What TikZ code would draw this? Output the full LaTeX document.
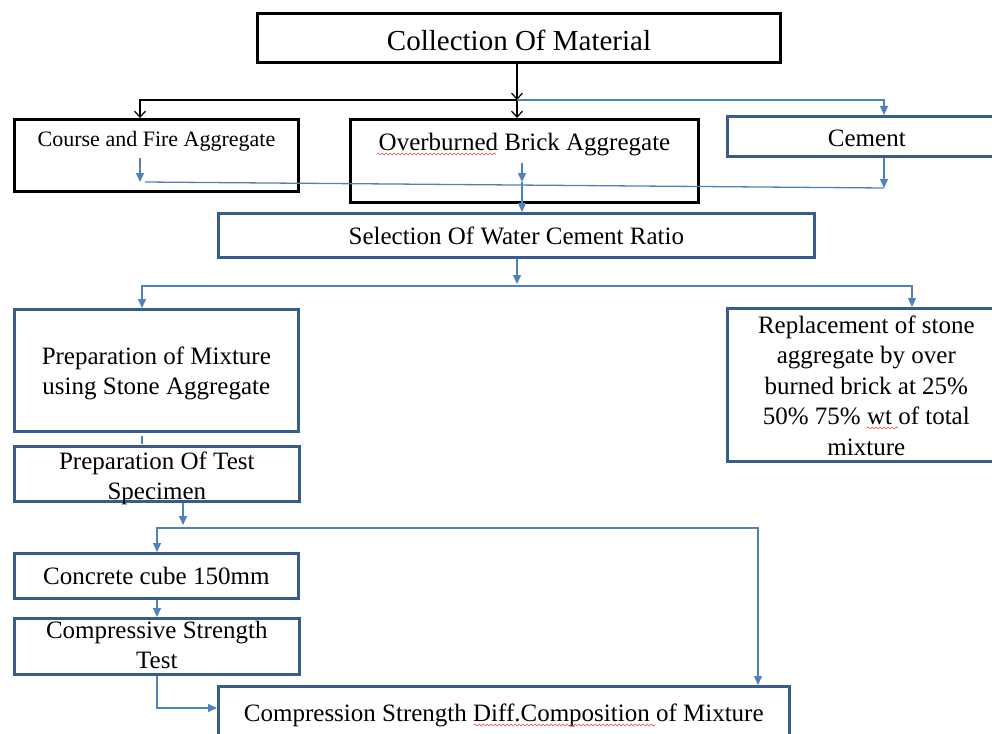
\documentclass[tikz,border=0pt]{standalone}
\usepackage{fontspec}
\setmainfont{Liberation Serif}
\usetikzlibrary{arrows.meta, positioning, calc, decorations.pathmorphing}

\definecolor{boxblue}{RGB}{56,93,138}
\definecolor{lineblue}{RGB}{79,129,189}
\definecolor{squig}{RGB}{232,70,70}

\tikzset{
    tri/.tip={Triangle[length=9pt, width=8pt]},
    vee/.tip={Straight Barb[length=6pt, width=11pt, line width=1.2pt]}
}

\begin{document}
\begin{tikzpicture}[
    x=1pt, y=-1pt,
    blackbox/.style={rectangle, draw=black, line width=3pt, inner sep=0pt, align=center,
                     anchor=north west, font=\fontsize{25}{30.5}\selectfont},
    bluebox/.style={rectangle, draw=boxblue, line width=2.6pt, inner sep=0pt, align=center,
                    anchor=north west, font=\fontsize{25}{30.5}\selectfont},
    blk/.style={-vee, draw=black, line width=1.2pt},
    arr/.style={-tri, draw=lineblue, line width=1.3pt},
    ln/.style={draw=lineblue, line width=1.3pt},
    squiggle/.style={draw=squig, line width=0.6pt, decorate,
                     decoration={snake, amplitude=1pt, segment length=4pt}}
]
\useasboundingbox (0,0) rectangle (992,733);

%% ===== TOP: material =====
\node[blackbox, minimum width=523pt, text height=37pt, text depth=12pt,
      font=\fontsize{29}{35}\selectfont] (coll) at (256,12) {Collection Of Material};
\node[blackbox, minimum width=284pt, text height=27pt, text depth=45pt,
      font=\fontsize{22}{27}\selectfont] (course) at (13,118) {Course and Fire Aggregate};
\node[blackbox, minimum width=348pt, text height=31pt, text depth=52pt] (over) at (349,118) {Overburned Brick Aggregate};
\node[bluebox, minimum width=279pt, text height=30pt, text depth=10pt] (cement) at (726,115) {Cement};

%% ===== MIDDLE: ratio and mixtures =====
\node[bluebox, minimum width=596pt, text height=31pt, text depth=13pt] (sel) at (217,212) {Selection Of Water Cement Ratio};
\node[bluebox, minimum width=284pt, text height=85.5pt, text depth=36.5pt] (mix) at (13,308) {Preparation of Mixture\\using Stone Aggregate};
\node[bluebox, minimum width=278pt, text height=147pt, text depth=6pt] (repl) at (726,307)
     {Replacement of stone\\aggregate by over\\burned brick at 25\%\\50\% 75\% wt of total\\mixture};

%% ===== BOTTOM: testing =====
\node[bluebox, minimum width=285pt, text height=53.5pt, text depth=1.5pt] (test) at (13,445) {Preparation Of Test\\Specimen};
\node[bluebox, minimum width=284pt, text height=31pt, text depth=14pt] (cube) at (13,552) {Concrete cube 150mm};
\node[bluebox, minimum width=285pt, text height=50.5pt, text depth=5.5pt] (comp) at (13,617) {Compressive Strength\\Test};
\node[bluebox, minimum width=571pt, text height=35pt, text depth=20pt] (diff) at (217,685) {Compression Strength Diff.Composition of Mixture};

%% ===== JUNCTIONS =====
\coordinate (jA) at (517,100);
\coordinate (jC) at (140,100);
\coordinate (jB) at (884,100);
\coordinate (fcA) at (140,158);
\coordinate (fcB) at (140,182);
\coordinate (fcE) at (884,188);
\coordinate (foA) at (522,163);
\coordinate (foB) at (522,182);
\coordinate (sJ) at (517,284);
\coordinate (sL) at (142,286);
\coordinate (sR) at (912,286);
\coordinate (tJ) at (183,525);
\coordinate (tL) at (157,528);
\coordinate (tR) at (758,528);
\coordinate (cE) at (157,708);

%% ===== ARROWS: material =====
\draw[blk] (coll.south -| jA) -- (jA);
\draw[blk] (jA) -- (jA |- over.north);
\draw[blk] (jA) -- (jC) -- (jC |- course.north);
\draw[arr] (jA) -- (jB) -- (jB |- cement.north);

%% ===== ARROWS: to ratio =====
\draw[arr] (fcA) -- (fcB);
\draw[ln] ([xshift=5pt]fcB) -- (fcE);
\draw[arr] (cement.south -| fcE) -- (fcE);
\draw[arr] (foA) -- (foB);
\draw[arr] (foB) -- (foB |- sel.north);

%% ===== ARROWS: ratio to mixtures =====
\draw[arr] (sel.south -| sJ) -- (sJ);
\draw[arr, tri-tri] (mix.north -| sL) -- (sL) -- (sR) -- (repl.north -| sR);
\draw[ln, shorten <=3pt, shorten >=1.5pt] (mix.south -| sL) -- (test.north -| sL);

%% ===== ARROWS: testing =====
\draw[arr] (test.south -| tJ) -- (tJ);
\draw[arr, tri-tri] (cube.north -| tL) -- (tL) -- (tR) -- (diff.north -| tR);
\draw[arr] (cube.south -| tL) -- (comp.north -| tL);
\draw[arr] (comp.south -| cE) -- (cE) -- (cE -| diff.west);

%% spell check marks
\draw[squiggle] (377,154) -- (496,154);
\draw[squiggle] (867,428) -- (898,428);
\draw[squiggle] (474,725) -- (655,725);

\end{tikzpicture}
\end{document}
